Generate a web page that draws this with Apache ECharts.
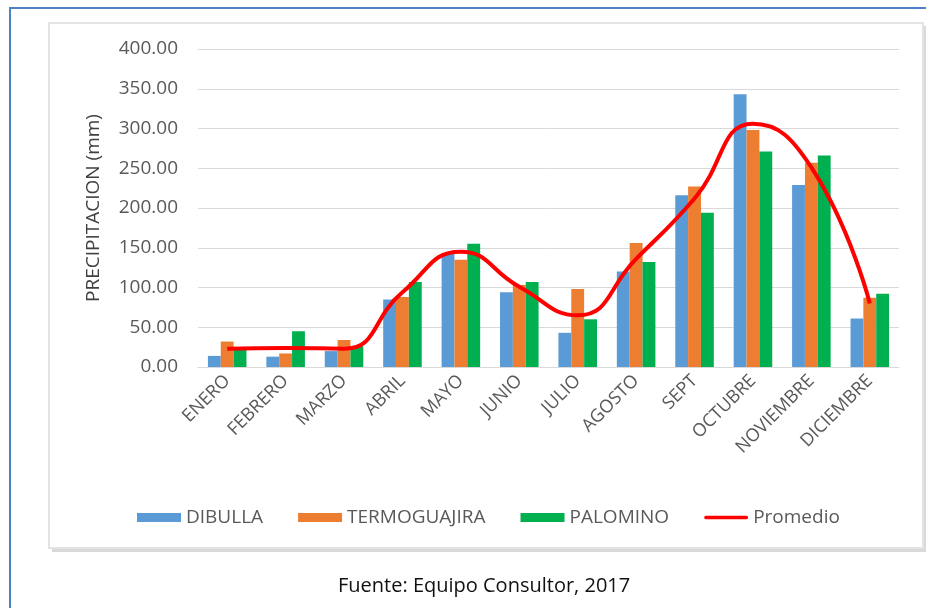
<!DOCTYPE html>
<html>
<head>
<meta charset="utf-8">
<script src="https://cdn.jsdelivr.net/npm/echarts@6/dist/echarts.min.js"></script>
<style>
  html, body { margin: 0; padding: 0; background: #ffffff; }
  #chart { width: 926px; height: 608px; }
</style>
</head>
<body>
<div id="chart"></div>
<script>
// Monthly precipitation (mm) per station
const months = ['ENERO', 'FEBRERO', 'MARZO', 'ABRIL', 'MAYO', 'JUNIO', 'JULIO', 'AGOSTO', 'SEPT', 'OCTUBRE', 'NOVIEMBRE', 'DICIEMBRE'];
const dibulla      = [14, 13, 20, 85, 143, 94, 43, 120, 216, 343, 229, 61];
const termoguajira = [32, 17, 34, 88, 135, 103, 98, 156, 227, 298, 257, 87];
const palomino     = [24, 45, 26, 107, 155, 107, 60, 132, 194, 271, 266, 92];
const promedio     = [23, 24, 23, 94, 145, 101, 65, 136, 212, 306, 251, 80];
const yTicks = { min: 0, max: 400, interval: 50 };

const FONT = 'Open Sans';
const chart = echarts.init(document.getElementById('chart'), null, { renderer: 'canvas' });

const barSeries = (name, data, color) => ({
  name, type: 'bar', data,
  itemStyle: { color },
  barGap: '0%',
  barCategoryGap: '34%'
});

chart.setOption({
  animation: false,
  backgroundColor: '#ffffff',
  textStyle: { fontFamily: FONT },
  graphic: [
    // outer frame
    { type: 'rect', z: -20, shape: { x: 10, y: 8, width: 930, height: 620 },
      style: { fill: '#ffffff', stroke: '#4f81c7', lineWidth: 2 } },
    // chart box shadow + box
    { type: 'rect', z: -19, shape: { x: 52, y: 26, width: 874, height: 526 },
      style: { fill: '#d9d9d9' } },
    { type: 'rect', z: -18, shape: { x: 49, y: 23, width: 874, height: 525 },
      style: { fill: '#ffffff', stroke: '#e3e3e3', lineWidth: 2 } },
    // source note
    { type: 'text', left: 338, top: 576, z: 10,
      style: { text: 'Fuente: Equipo Consultor, 2017', font: '20px "Open Sans"', fill: '#111111' } }
  ],
  grid: { left: 198, right: 27, top: 49, bottom: 241, containLabel: false },
  legend: {
    top: 503, left: 132,
    itemWidth: 44, itemHeight: 9, itemGap: 35,
    textStyle: { fontSize: 19, color: '#595959', fontFamily: FONT },
    data: [
      { name: 'DIBULLA', icon: 'rect' },
      { name: 'TERMOGUAJIRA', icon: 'rect' },
      { name: 'PALOMINO', icon: 'rect' },
      { name: 'Promedio', icon: 'path://M2,0L48,0A2,2 0 0 1 48,4L2,4A2,2 0 0 1 2,0Z' }
    ]
  },
  xAxis: {
    type: 'category',
    data: months,
    axisTick: { show: false },
    axisLine: { show: true, lineStyle: { color: '#d9d9d9', width: 1 } },
    axisLabel: { rotate: 45, fontSize: 18, color: '#595959', margin: 11, interval: 0, fontFamily: FONT }
  },
  yAxis: {
    type: 'value',
    min: yTicks.min, max: yTicks.max, interval: yTicks.interval,
    name: 'PRECIPITACION (mm)',
    nameLocation: 'middle',
    nameGap: 95,
    nameTextStyle: { fontSize: 19, color: '#404040', fontFamily: FONT },
    axisLine: { show: false },
    axisTick: { show: false },
    splitLine: { lineStyle: { color: '#d9d9d9', width: 1 } },
    axisLabel: { fontSize: 19, color: '#595959', margin: 20, fontFamily: FONT,
      formatter: v => v.toFixed(2) }
  },
  series: [
    barSeries('DIBULLA', dibulla, '#5b9bd5'),
    barSeries('TERMOGUAJIRA', termoguajira, '#ed7d31'),
    barSeries('PALOMINO', palomino, '#00b050'),
    {
      name: 'Promedio', type: 'line', data: promedio,
      smooth: 0.5, symbol: 'none', z: 5,
      lineStyle: { color: '#ff0000', width: 4 },
      itemStyle: { color: '#ff0000' }
    }
  ]
});
</script>
</body>
</html>
